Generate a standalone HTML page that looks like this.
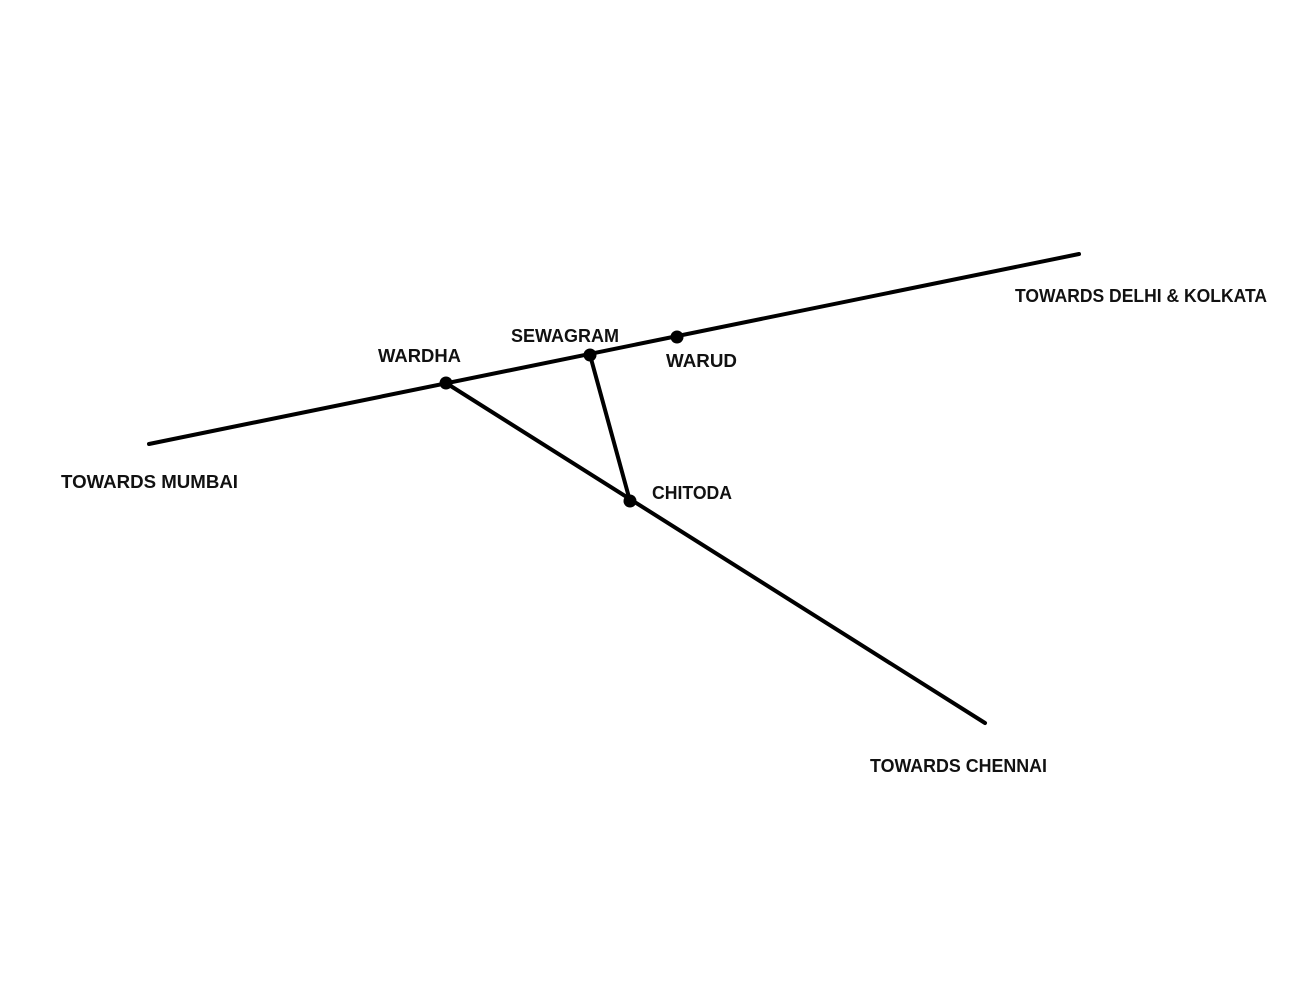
<!DOCTYPE html>
<html><head><style>html,body{margin:0;padding:0;background:#fff;}svg{display:block}</style></head>
<body>
<svg width="1304" height="986" viewBox="0 0 1304 986" xmlns="http://www.w3.org/2000/svg">
<g stroke="#000" stroke-width="4" stroke-linecap="round" fill="none">
<line x1="149" y1="444" x2="1079" y2="254"/>
<line x1="446" y1="383" x2="985" y2="723"/>
<line x1="590" y1="355" x2="630" y2="501"/>
</g>
<g fill="#000">
<circle cx="446" cy="383" r="6.5"/>
<circle cx="590" cy="355" r="6.5"/>
<circle cx="677" cy="337" r="6.5"/>
<circle cx="630" cy="501" r="6.5"/>
</g>
<g font-family="'Liberation Sans', sans-serif" font-weight="bold" font-size="18" fill="#111">
<text x="1015" y="302" textLength="252" lengthAdjust="spacingAndGlyphs">TOWARDS DELHI &amp; KOLKATA</text>
<text x="378" y="362" textLength="83" lengthAdjust="spacingAndGlyphs">WARDHA</text>
<text x="511" y="342" textLength="108" lengthAdjust="spacingAndGlyphs">SEWAGRAM</text>
<text x="666" y="367" textLength="71" lengthAdjust="spacingAndGlyphs">WARUD</text>
<text x="61" y="488" textLength="177" lengthAdjust="spacingAndGlyphs">TOWARDS MUMBAI</text>
<text x="652" y="499" textLength="80" lengthAdjust="spacingAndGlyphs">CHITODA</text>
<text x="870" y="772" textLength="177" lengthAdjust="spacingAndGlyphs">TOWARDS CHENNAI</text>
</g>
</svg>
</body></html>
